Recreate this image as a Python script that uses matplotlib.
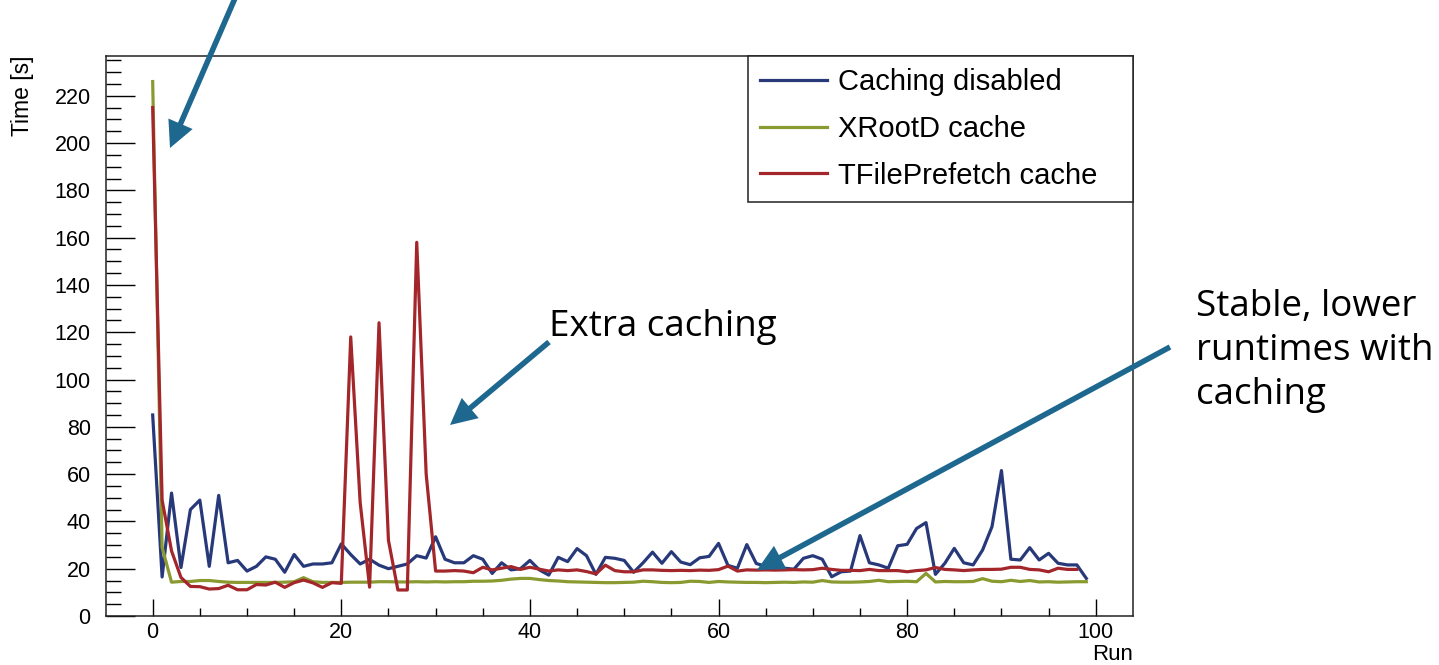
import numpy as np
import matplotlib
matplotlib.use("Agg")
import matplotlib.pyplot as plt
from matplotlib.patches import FancyArrowPatch
from matplotlib.ticker import MultipleLocator

BLUE = "#28397a"
GREEN = "#8a9a30"
RED = "#a3262b"
ARROW = "#1e6890"

# run times [s] per run
caching_disabled = [
    85, 16.5, 52, 20.5, 45, 49, 21, 51, 22.5, 23.5,
    19, 21, 25, 24, 18.5, 26, 21, 22, 22, 22.5,
    30.5, 26, 22, 24, 21.5, 20, 21, 22, 25.5, 24.5,
    33.5, 24, 22.5, 22.5, 25.5, 24, 18, 22.5, 19.5, 20,
    23.5, 19.5, 17.3, 24.8, 23, 28.5, 25.5, 17.6, 24.8, 24.4,
    23.5, 18.5, 22.5, 27, 22.3, 27.2, 22.8, 21.7, 24.6, 25.2,
    30.7, 21.4, 20.2, 30.2, 22.2, 21, 20.5, 20.2, 19.8, 24.4,
    25.5, 24, 16.6, 18.7, 19, 34, 22.5, 21.6, 20.2, 29.7,
    30.3, 37, 39.5, 17.6, 22.3, 28.6, 22.5, 21.6, 27.9, 37.8,
    61.5, 24, 23.7, 28.9, 23.7, 26.5, 22.3, 21.6, 21.6, 15.9,
]
xrootd_cache = [
    226, 29, 14.3, 14.6, 14.6, 15, 15, 14.6, 14.3, 14.2,
    14.2, 14.2, 14.2, 14.2, 14.3, 14.5, 16.2, 14.5, 14.2, 14.2,
    14.2, 14.3, 14.3, 14.3, 14.5, 14.5, 14.4, 14.4, 14.5, 14.4,
    14.5, 14.4, 14.5, 14.5, 14.7, 14.7, 14.8, 15.1, 15.6, 15.9,
    15.9, 15.4, 15, 14.8, 14.5, 14.4, 14.3, 14.2, 14.1, 14.1,
    14.2, 14.3, 14.7, 14.5, 14.2, 14.1, 14.2, 14.7, 14.6, 14.2,
    14.6, 14.4, 14.3, 14.2, 14.2, 14.1, 14.2, 14.3, 14.2, 14.4,
    14.3, 15, 14.4, 14.3, 14.3, 14.4, 14.6, 15.1, 14.5, 14.6,
    14.7, 14.5, 18, 14.4, 14.6, 14.5, 14.5, 14.6, 15.8, 14.7,
    14.5, 15.1, 14.6, 15, 14.4, 14.5, 14.3, 14.4, 14.5, 14.5,
]
tfileprefetch_cache = [
    215, 49, 27.5, 16.3, 12.5, 12.4, 11.4, 11.6, 13, 11.1,
    11.1, 13.3, 13.1, 14.3, 12.1, 14.1, 15.2, 14, 12.1, 14.1,
    13.8, 118, 48, 12.2, 124, 32, 11, 11, 158, 60,
    19, 19, 19.2, 19, 18.3, 20.6, 19.5, 20.2, 20.9, 19.7,
    20.6, 19.8, 19, 19.5, 19.2, 19.5, 18.8, 17.8, 21.5, 19.2,
    18.7, 18.7, 19.5, 19.5, 19.3, 19.2, 19.3, 19.2, 19.4, 19.3,
    19.6, 21.1, 19, 19.5, 19.4, 19.5, 19.4, 19.5, 19.6, 19.5,
    19.6, 20.2, 19.7, 19.3, 19.3, 19.2, 19.7, 19.2, 19.2, 19.2,
    18.7, 19.2, 19.5, 20.5, 19.7, 19.5, 19.2, 19.5, 19.7, 19.7,
    19.8, 20.6, 20.6, 19.7, 19.5, 18.7, 20.2, 19.7, 19.7,
]

W, H = 1439, 665


def fx(px):
    return px / W


def fy(py):
    return 1 - py / H


def add_arrow(fig, tail, tip):
    arr = FancyArrowPatch(
        (fx(tail[0]), fy(tail[1])), (fx(tip[0]), fy(tip[1])),
        transform=fig.transFigure,
        arrowstyle="simple,head_length=1.0,head_width=1.0,tail_width=0.21",
        mutation_scale=19, linewidth=0, color=ARROW, shrinkA=0, shrinkB=0,
    )
    fig.add_artist(arr)


def main() -> None:
    plt.rcParams["font.family"] = ["Liberation Sans", "DejaVu Sans"]
    fig = plt.figure(figsize=(W / 100, H / 100), dpi=100)
    ax = fig.add_axes([fx(106), fy(616), (1133 - 106) / W, (616 - 56) / H])

    ax.plot(np.arange(len(caching_disabled)), caching_disabled, color=BLUE, lw=2.3,
            label="Caching disabled")
    ax.plot(np.arange(len(xrootd_cache)), xrootd_cache, color=GREEN, lw=2.3,
            label="XRootD cache")
    ax.plot(np.arange(len(tfileprefetch_cache)), tfileprefetch_cache, color=RED, lw=2.3,
            label="TFilePrefetch cache")

    ax.set_xlim(-4.95, 103.95)
    ax.set_ylim(0, 236.8)
    ax.xaxis.set_major_locator(MultipleLocator(20))
    ax.xaxis.set_minor_locator(MultipleLocator(5))
    ax.yaxis.set_major_locator(MultipleLocator(20))
    ax.yaxis.set_minor_locator(MultipleLocator(5))
    ax.tick_params(axis="y", which="major", direction="in", length=21, width=1, pad=11,
                   labelsize=15.5)
    ax.tick_params(axis="y", which="minor", direction="in", length=11, width=1)
    ax.tick_params(axis="x", which="major", direction="in", length=12, width=1, pad=4,
                   labelsize=15.5)
    ax.tick_params(axis="x", which="minor", direction="in", length=5.5, width=1)
    for sp in ax.spines.values():
        sp.set_linewidth(1.1)
        sp.set_color("#222222")

    fig.text(fx(22), fy(55), "Time [s]", rotation=90, ha="center", va="top", fontsize=16.5)
    fig.text(fx(1133), fy(655), "Run", ha="right", va="center", fontsize=16)

    leg = ax.legend(loc="upper left", bbox_to_anchor=(0.625, 0.75, 0.375, 0.25),
                    mode="expand", borderaxespad=0, fancybox=False, framealpha=1,
                    edgecolor="#222222", fontsize=21, handlelength=2.3,
                    handletextpad=0.38, labelspacing=0.64, borderpad=0.42)
    leg.get_frame().set_linewidth(1.1)
    for line in leg.get_lines():
        line.set_linewidth(2.3)

    # annotations
    ann = dict(family=["Open Sans", "DejaVu Sans"], fontsize=26.5, color="black")
    fig.text(fx(549), fy(327), "Extra caching", ha="left", va="center", **ann)
    fig.text(fx(1196), fy(351), "Stable, lower\nruntimes with\ncaching", ha="left",
             va="center", linespacing=1.31, **ann)
    add_arrow(fig, (236, -4), (170, 148))
    add_arrow(fig, (549, 342), (450, 425))
    add_arrow(fig, (1170, 347), (757, 570))

    fig.savefig("out.png", dpi=100)
    plt.close(fig)


if __name__ == "__main__":
    main()
